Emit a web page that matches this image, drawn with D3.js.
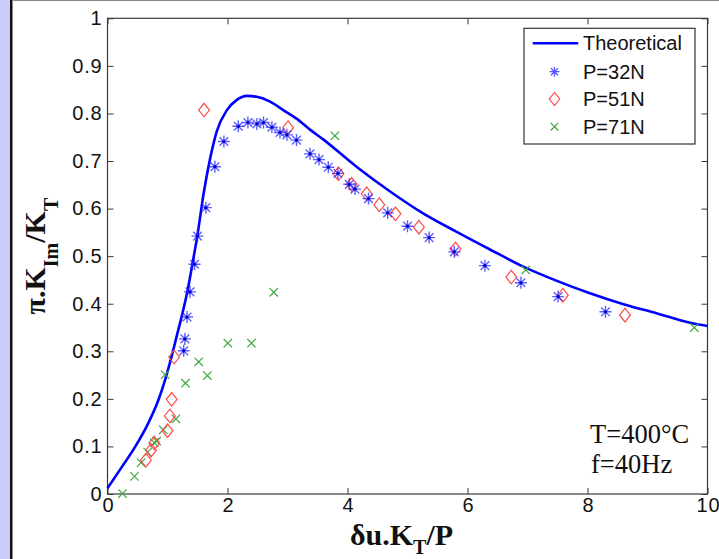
<!DOCTYPE html>
<html>
<head>
<meta charset="utf-8">
<script src="https://cdn.jsdelivr.net/npm/d3@7"></script>
<style>
  body { margin: 0; background: #fff; }
  svg { display: block; }
</style>
</head>
<body>
<div id="chart"></div>
<script>
// data
// ---------------------------------------------------------------------------------------------
// theoretical curve
var theoX = [0, 0.24, 0.46, 0.68, 0.85, 0.96, 1.07, 1.16, 1.24, 1.33, 1.41, 1.50, 1.60, 1.71, 1.82, 1.99,
  2.15, 2.32, 2.49, 2.71, 2.93, 3.15, 3.375, 3.60, 4.15, 4.71, 5.26, 5.82, 6.375, 6.93, 7.49, 8.04, 8.6, 9.15, 9.71, 10];
var theoY = [0.012, 0.057, 0.099, 0.149, 0.198, 0.240, 0.290, 0.335, 0.375, 0.425, 0.480, 0.545, 0.630, 0.705, 0.762, 0.807,
  0.828, 0.837, 0.835, 0.825, 0.807, 0.789, 0.766, 0.745, 0.688, 0.636, 0.590, 0.551, 0.514, 0.478, 0.448, 0.422, 0.399, 0.380, 0.360, 0.353];

// P=32N
var p32X = [1.27, 1.29, 1.325, 1.375, 1.45, 1.50, 1.64, 1.79, 1.94, 2.18, 2.34, 2.49, 2.60, 2.74, 2.875, 2.99, 3.15,
  3.375, 3.525, 3.68, 3.84, 4.03, 4.125, 4.35, 4.67, 5.0, 5.36, 5.78, 6.29, 6.89, 7.51, 8.30];
var p32Y = [0.301, 0.326, 0.372, 0.425, 0.483, 0.542, 0.602, 0.688, 0.741, 0.773, 0.781, 0.778, 0.781, 0.771, 0.760, 0.755, 0.744,
  0.715, 0.703, 0.687, 0.674, 0.651, 0.641, 0.621, 0.591, 0.563, 0.539, 0.509, 0.480, 0.444, 0.415, 0.383];

// P=51N
var p51X = [0.64, 0.725, 0.78, 1.0, 1.04, 1.07, 1.11, 1.61, 3.01, 3.85, 4.07, 4.32, 4.53, 4.80, 5.19, 5.80, 6.73, 7.59, 8.625];
var p51Y = [0.071, 0.092, 0.107, 0.133, 0.164, 0.199, 0.288, 0.807, 0.770, 0.673, 0.651, 0.631, 0.608, 0.589, 0.561, 0.515, 0.456, 0.418, 0.376];

// P=71N
var p71X = [0.25, 0.45, 0.56, 0.67, 0.78, 0.82, 0.93, 1.14, 0.96, 1.30, 1.52, 1.665, 2.005, 2.40, 2.77, 3.79, 6.97, 9.78];
var p71Y = [0.001, 0.037, 0.066, 0.088, 0.108, 0.111, 0.135, 0.158, 0.251, 0.233, 0.278, 0.249, 0.317, 0.317, 0.424, 0.753, 0.471, 0.350];

var xTicks = [0, 2, 4, 6, 8, 10];
var yTicks = [0, 0.1, 0.2, 0.3, 0.4, 0.5, 0.6, 0.7, 0.8, 0.9, 1];
var yTickLabels = ['0', '0.1', '0.2', '0.3', '0.4', '0.5', '0.6', '0.7', '0.8', '0.9', '1'];

var seriesNames = ['Theoretical', 'P=32N', 'P=51N', 'P=71N'];

var sansFont = "'Liberation Sans', Arial, Helvetica, sans-serif";
var serifFont = "'Liberation Serif', 'Times New Roman', Times, serif";

var svgWidth = 719;
var svgHeight = 559;

var margin = {
  top: 18.3,
  right: 11.5,
  bottom: 65,
  left: 107.5
};

var chartWidth = svgWidth - margin.left - margin.right;
var chartHeight = svgHeight - margin.top - margin.bottom;

var svg = d3.select('#chart')
  .append('svg')
  .attr('width', svgWidth)
  .attr('height', svgHeight);

// page decoration: lavender strip on the left, borders
svg.append('rect')
  .attr('x', 0).attr('y', 0)
  .attr('width', 10).attr('height', svgHeight)
  .attr('fill', '#ccccfa');
svg.append('rect')
  .attr('x', 10).attr('y', 0)
  .attr('width', 2.5).attr('height', svgHeight)
  .attr('fill', '#111');
svg.append('line')
  .attr('x1', 12).attr('x2', svgWidth)
  .attr('y1', 0.5).attr('y2', 0.5)
  .attr('stroke', '#8a8a8a');

var chartGroup = svg.append('g')
  .attr('transform', `translate(${margin.left}, ${margin.top})`);

// scales
var xLinScale = d3.scaleLinear()
  .domain([0, 10])
  .range([0, chartWidth]);

var yLinScale = d3.scaleLinear()
  .domain([0, 1])
  .range([chartHeight, 0]);

// axes, ticks pointing inward
var bottomAxis = d3.axisBottom(xLinScale).tickValues(xTicks).tickSizeInner(-6).tickSizeOuter(0).tickPadding(4);
var topAxis = d3.axisTop(xLinScale).tickValues(xTicks).tickSizeInner(-6).tickSizeOuter(0).tickFormat('');
var leftAxis = d3.axisLeft(yLinScale).tickValues(yTicks).tickSizeInner(-6).tickSizeOuter(0).tickPadding(5)
  .tickFormat(function(d, i) { return yTickLabels[i]; });
var rightAxis = d3.axisRight(yLinScale).tickValues(yTicks).tickSizeInner(-6).tickSizeOuter(0).tickFormat('');

var xAxis = chartGroup.append('g')
  .attr('transform', `translate(0, ${chartHeight})`)
  .call(bottomAxis);
chartGroup.append('g').call(topAxis);
var yAxis = chartGroup.append('g').call(leftAxis);
chartGroup.append('g')
  .attr('transform', `translate(${chartWidth}, 0)`)
  .call(rightAxis);

chartGroup.selectAll('.domain').remove();
chartGroup.selectAll('.tick line').attr('stroke', '#3a3a3a');
chartGroup.selectAll('.tick text')
  .attr('font-family', sansFont)
  .attr('font-size', '20px')
  .attr('letter-spacing', '0.8px')
  .attr('fill', '#111');
// x labels: letter spacing pushes them right, nudge back
xAxis.selectAll('.tick text').attr('dx', '0.4px');

// frame
chartGroup.append('rect')
  .attr('x', 0).attr('y', 0)
  .attr('width', chartWidth).attr('height', chartHeight)
  .attr('fill', 'none')
  .attr('stroke', '#3a3a3a')
  .attr('stroke-width', 1.2);

// marker shapes
function starPath(r) {
  var a = r * 0.72;
  return `M${-r},0H${r}M0,${-r}V${r}M${-a},${-a}L${a},${a}M${-a},${a}L${a},${-a}`;
}
function diamondPath(w, h) {
  return `M0,${-h}L${w},0L0,${h}L${-w},0Z`;
}
function crossPath(r) {
  return `M${-r},${-r}L${r},${r}M${-r},${r}L${r},${-r}`;
}

// theoretical line
var theoData = theoX.map(function(x, i) { return {x: x, y: theoY[i]}; });
var line = d3.line()
  .x(d => xLinScale(d.x))
  .y(d => yLinScale(d.y))
  .curve(d3.curveMonotoneX);

chartGroup.append('path')
  .datum(theoData)
  .attr('d', line)
  .attr('fill', 'none')
  .attr('stroke', '#0000ff')
  .attr('stroke-width', 2.6);

// P=71N crosses
chartGroup.selectAll(null)
  .data(p71X.map(function(x, i) { return {x: x, y: p71Y[i]}; }))
  .enter()
  .append('path')
  .attr('transform', d => `translate(${xLinScale(d.x)}, ${yLinScale(d.y)})`)
  .attr('d', crossPath(4.2))
  .attr('fill', 'none')
  .attr('stroke', '#3fa83f')
  .attr('stroke-width', 1.2);

// P=51N diamonds
chartGroup.selectAll(null)
  .data(p51X.map(function(x, i) { return {x: x, y: p51Y[i]}; }))
  .enter()
  .append('path')
  .attr('transform', d => `translate(${xLinScale(d.x)}, ${yLinScale(d.y)})`)
  .attr('d', diamondPath(5.4, 6.8))
  .attr('fill', 'none')
  .attr('stroke', '#ff4a4a')
  .attr('stroke-width', 1.2);

// P=32N stars
var p32Data = p32X.map(function(x, i) { return {x: x, y: p32Y[i]}; });
chartGroup.selectAll(null)
  .data(p32Data)
  .enter()
  .append('path')
  .attr('transform', d => `translate(${xLinScale(d.x)}, ${yLinScale(d.y)})`)
  .attr('d', starPath(6))
  .attr('fill', 'none')
  .attr('stroke', '#2a2aff')
  .attr('stroke-opacity', 0.75)
  .attr('stroke-width', 1.4);
chartGroup.selectAll(null)
  .data(p32Data)
  .enter()
  .append('circle')
  .attr('cx', d => xLinScale(d.x))
  .attr('cy', d => yLinScale(d.y))
  .attr('r', 1.6)
  .attr('fill', '#0000c8');

// axis labels
var xLabel = svg.append('text')
  .attr('x', margin.left + chartWidth / 2 - 6)
  .attr('y', 545)
  .attr('text-anchor', 'middle')
  .attr('font-family', serifFont)
  .attr('font-weight', 'bold')
  .attr('font-size', '30px')
  .attr('fill', '#111');
xLabel.append('tspan').text('δu.K');
xLabel.append('tspan').attr('dy', 9).attr('font-size', '20px').text('T');
xLabel.append('tspan').attr('dy', -9).text('/P');

var yLabel = svg.append('text')
  .attr('transform', `translate(45, ${margin.top + chartHeight / 2}) rotate(-90)`)
  .attr('text-anchor', 'middle')
  .attr('font-family', serifFont)
  .attr('font-weight', 'bold')
  .attr('font-size', '30px')
  .attr('fill', '#111');
yLabel.append('tspan').text('π.K');
yLabel.append('tspan').attr('dy', 13).attr('font-size', '20px').text('Im');
yLabel.append('tspan').attr('dy', -13).text('/K');
yLabel.append('tspan').attr('dy', 13).attr('font-size', '20px').text('T');

// annotation
svg.append('text')
  .attr('x', 590).attr('y', 443)
  .attr('font-family', serifFont)
  .attr('font-size', '26.5px')
  .attr('fill', '#111')
  .text('T=400°C');
svg.append('text')
  .attr('x', 591).attr('y', 473)
  .attr('font-family', serifFont)
  .attr('font-size', '26.5px')
  .attr('fill', '#111')
  .text('f=40Hz');

// legend
var legend = svg.append('g')
  .attr('transform', 'translate(524, 28.3)');
legend.append('rect')
  .attr('width', 171).attr('height', 115.7)
  .attr('fill', '#fff')
  .attr('stroke', '#333')
  .attr('stroke-width', 1.2);

var rowY = [15, 43.4, 70.7, 98.4];
legend.append('line')
  .attr('x1', 8.7).attr('x2', 54.3)
  .attr('y1', rowY[0]).attr('y2', rowY[0])
  .attr('stroke', '#0000ff')
  .attr('stroke-width', 2.6);
legend.append('path')
  .attr('transform', `translate(30.5, ${rowY[1]})`)
  .attr('d', starPath(5))
  .attr('fill', 'none')
  .attr('stroke', '#2a2aff')
  .attr('stroke-opacity', 0.8)
  .attr('stroke-width', 1.3);
legend.append('path')
  .attr('transform', `translate(30.5, ${rowY[2]})`)
  .attr('d', diamondPath(5.2, 6.6))
  .attr('fill', 'none')
  .attr('stroke', '#ff4a4a')
  .attr('stroke-width', 1.2);
legend.append('path')
  .attr('transform', `translate(30.5, ${rowY[3]})`)
  .attr('d', crossPath(3.8))
  .attr('fill', 'none')
  .attr('stroke', '#3fa83f')
  .attr('stroke-width', 1.2);

legend.selectAll('text.legend-label')
  .data(seriesNames)
  .enter()
  .append('text')
  .classed('legend-label', true)
  .attr('x', 59)
  .attr('y', (d, i) => rowY[i])
  .attr('dy', '0.36em')
  .attr('font-family', sansFont)
  .attr('font-size', '20px')
  .attr('fill', '#111')
  .text(d => d);
</script>
</body>
</html>
